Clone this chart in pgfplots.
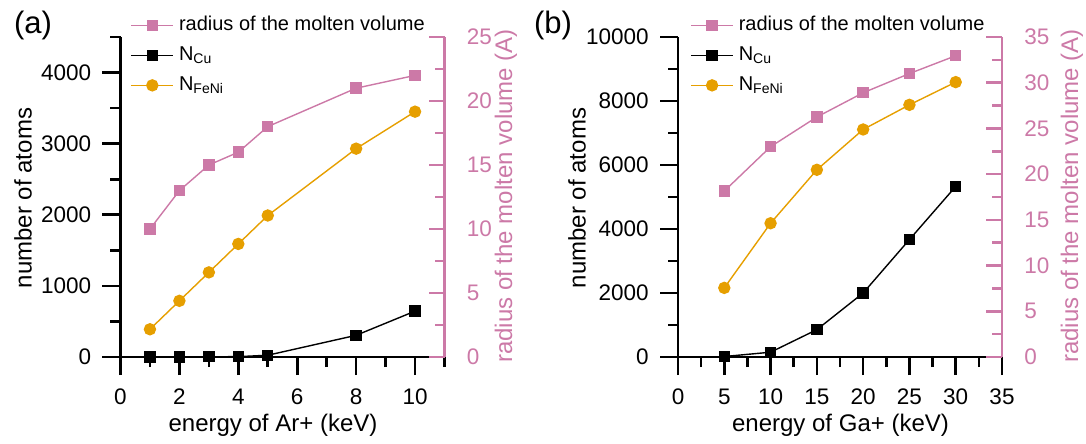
\documentclass[border=0pt]{standalone}
\usepackage{fontspec}
\setmainfont{Liberation Sans}
\usepackage{pgfplots}
\pgfplotsset{compat=1.18}
\definecolor{pk}{RGB}{204,121,167}
\definecolor{og}{RGB}{230,159,0}
\tikzset{lab/.style={font=\fontsize{12}{14}\selectfont, anchor=center, inner sep=0pt}}
\pgfplotsset{
  base/.style={
    scale only axis, width=162pt, height=160pt,
    clip=false,
    /pgf/number format/assume math mode=true,
    /pgf/number format/1000 sep={},
    scaled ticks=false,
    tick label style={font=\fontsize{11.25}{13}\selectfont},
    axis line style={line width=1.4pt},
    legend image code/.code={\draw[mark repeat=2,mark phase=2,##1] plot coordinates {(0pt,0pt)(10.5pt,0pt)(21pt,0pt)};},
  },
  leftax/.style={base,
    axis x line*=bottom, axis y line*=left, tick align=outside,
    major tick length=9pt, minor tick length=5pt,
    tick style={black, line width=1.3pt},
    xticklabel style={anchor=center, yshift=-11pt, inner sep=0pt},
    yticklabel style={anchor=east, xshift=-5.5pt, inner sep=0pt},
    legend cell align=left,
    legend style={draw=none, fill=none, at={(0.03,1.072)}, anchor=north west, inner sep=0pt, row sep=4pt,
      font=\fontsize{10}{12}\selectfont, nodes={inner sep=0.5pt, text height=7.5pt, text depth=2.5pt},
      /tikz/every odd column/.append style={column sep=2pt}},
  },
  rightax/.style={base,
    axis x line=none, axis y line*=right, tick align=inside, xtick=\empty,
    major tick length=8pt, minor tick length=5pt,
    axis line style={pk, line width=1.4pt},
    tick style={pk, line width=1.3pt},
    yticklabel style={pk, anchor=west, xshift=11pt, inner sep=0pt},
  },
  cu/.style={black, line width=0.7pt, mark=square*, mark size=2.5pt, mark options={solid}},
  fe/.style={og, line width=0.7pt, mark=*, mark size=2.75pt},
  ra/.style={pk, line width=0.7pt, mark=square*, mark size=2.5pt},
}
\begin{document}
\begin{tikzpicture}
\node[font=\fontsize{15.5}{18}\selectfont] at (16.5pt,-12.5pt) {(a)};
\node[font=\fontsize{15.5}{18}\selectfont] at (276.5pt,-12.5pt) {(b)};
% ---------- panel (a) ----------
\begin{axis}[leftax, at={(60.25pt,-178.5pt)}, anchor=south west,
  xmin=0, xmax=11, ymin=0, ymax=4500,
  xtick={0,2,4,6,8,10}, minor xtick={1,3,5,7,9,11},
  ytick={0,1000,2000,3000,4000}, minor ytick={500,1500,2500,3500,4500}]
\addlegendimage{ra}
\addlegendentry{radius of the molten volume}
\addplot[cu] coordinates {(1,0) (2,0) (3,3) (4,5) (5,25) (8,305) (10,645)};
\addlegendentry{N\textsubscript{Cu}}
\addplot[fe] coordinates {(1,390) (2,790) (3,1190) (4,1590) (5,1990) (8,2930) (10,3450)};
\addlegendentry{N\textsubscript{FeNi}}
\end{axis}
\begin{axis}[rightax, at={(60.25pt,-178.5pt)}, anchor=south west,
  xmin=0, xmax=11, ymin=0, ymax=25,
  ytick={0,5,10,15,20,25}, minor ytick={2.5,7.5,12.5,17.5,22.5}]
\addplot[ra] coordinates {(1,10) (2,13) (3,15) (4,16) (5,18) (8,21) (10,22)};
\end{axis}
% ---------- panel (b) ----------
\begin{axis}[leftax, at={(339pt,-178.5pt)}, anchor=south west,
  xmin=0, xmax=35, ymin=0, ymax=10000,
  xtick={0,5,10,15,20,25,30,35}, minor xtick={2.5,7.5,12.5,17.5,22.5,27.5,32.5},
  ytick={0,2000,4000,6000,8000,10000}, minor ytick={1000,3000,5000,7000,9000},
  legend style={at={(0.037,1.072)}}]
\addlegendimage{ra}
\addlegendentry{radius of the molten volume}
\addplot[cu] coordinates {(5,15) (10,150) (15,855) (20,2000) (25,3670) (30,5330)};
\addlegendentry{N\textsubscript{Cu}}
\addplot[fe] coordinates {(5,2160) (10,4180) (15,5850) (20,7110) (25,7880) (30,8590)};
\addlegendentry{N\textsubscript{FeNi}}
\end{axis}
\begin{axis}[rightax, at={(339pt,-178.5pt)}, anchor=south west,
  xmin=0, xmax=35, ymin=0, ymax=35,
  ytick={0,5,10,15,20,25,30,35}, minor ytick={2.5,7.5,12.5,17.5,22.5,27.5,32.5}]
\addplot[ra] coordinates {(5,18.15) (10,23.0) (15,26.25) (20,28.9) (25,31.0) (30,32.95)};
\end{axis}
% axis titles (absolute positions, 1px = 0.5pt)
\node[lab] at (136.5pt,-212.5pt) {energy of Ar+ (keV)};
\node[lab, rotate=90] at (11.5pt,-99pt) {number of atoms};
\node[lab, rotate=90, pk] at (253pt,-98pt) {radius of the molten volume (A)};
\node[lab] at (420.25pt,-212.5pt) {energy of Ga+ (keV)};
\node[lab, rotate=90] at (288.5pt,-99pt) {number of atoms};
\node[lab, rotate=90, pk] at (536pt,-98pt) {radius of the molten volume (A)};
\pgfresetboundingbox
\path[use as bounding box] (0,0) rectangle (543pt,-222pt);
\end{tikzpicture}
\end{document}
